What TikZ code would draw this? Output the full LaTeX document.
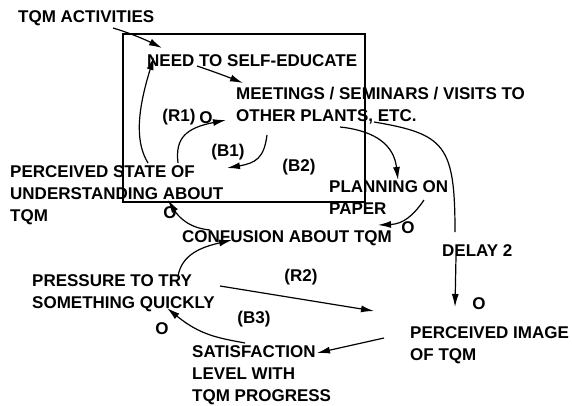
\documentclass[tikz,border=0pt]{standalone}
\usepackage{fontspec}
\setmainfont{Liberation Sans}
\usetikzlibrary{arrows.meta}
\tikzset{
  lbl/.style={anchor=base west, inner sep=0pt, align=left,
              font=\fontsize{17}{22}\selectfont\bfseries},
  loop/.style={inner sep=0pt, font=\fontsize{17}{22}\selectfont\bfseries},
  pol/.style={inner sep=0pt, font=\fontsize{17}{20}\selectfont\bfseries},
  link/.style={line width=1.2pt, -{Latex[length=13pt,width=7pt]}},
  plain/.style={line width=1.2pt},
}
\begin{document}
\begin{tikzpicture}[x=1pt, y=-1pt]
\useasboundingbox (0,0) rectangle (572,406);

% boundary of the self-education sector
\draw[line width=1.2pt] (123,34) rectangle (365,202);

% variables (multi-line nodes are placed by the baseline of their last line)
\node[lbl] (act)   at (18,23)  {TQM ACTIVITIES};
\node[lbl] (need)  at (147,67) {NEED TO SELF-EDUCATE};
\node[lbl] (meet)  at (236,122) {MEETINGS / SEMINARS / VISITS TO\\OTHER PLANTS, ETC.};
\node[lbl] (state) at (10,221) {PERCEIVED STATE OF\\UNDERSTANDING ABOUT\\TQM};
\node[lbl] (plan)  at (329,214) {PLANNING ON\\PAPER};
\node[lbl] (conf)  at (182,242) {CONFUSION ABOUT TQM};
\node[lbl] (delay) at (442,256) {DELAY 2};
\node[lbl] (press) at (32,308) {PRESSURE TO TRY\\SOMETHING QUICKLY};
\node[lbl] (image) at (410,360) {PERCEIVED IMAGE\\OF TQM};
\node[lbl] (sat)   at (192,401) {SATISFACTION\\LEVEL WITH\\TQM PROGRESS};

% loop identifiers
\node[loop] (r1) at (179,117) {(R1)};
\node[loop] (b1) at (228,152) {(B1)};
\node[loop] (b2) at (299,167) {(B2)};
\node[loop] (r2) at (301,277) {(R2)};
\node[loop] (b3) at (254,319) {(B3)};

% opposite-direction link markers
\node[pol] (o1) at (206,118) {O};
\node[pol] (o2) at (170,213) {O};
\node[pol] (o3) at (408,228) {O};
\node[pol] (o4) at (162,329) {O};
\node[pol] (o5) at (479,304) {O};

% connector end points
\coordinate (act-o)   at (113,28);
\coordinate (need-i)  at (162,48);
\coordinate (need-o)  at (197,66);
\coordinate (need-i2) at (154,57);
\coordinate (meet-i)  at (243,83);
\coordinate (meet-i2) at (226,120);
\coordinate (meet-o1) at (267,135);
\coordinate (meet-o2) at (340,127);
\coordinate (meet-o3) at (374,122);
\coordinate (state-o1) at (148,163);
\coordinate (state-o2) at (178,163);
\coordinate (state-i1) at (227,168);
\coordinate (state-i2) at (168,200);
\coordinate (plan-i)  at (398,180);
\coordinate (plan-o)  at (424,200);
\coordinate (conf-i1) at (378,225);
\coordinate (conf-i2) at (232,240);
\coordinate (conf-o)  at (210,230);
\coordinate (delay-i) at (455,232);
\coordinate (delay-o) at (456,256);
\coordinate (image-i1) at (455,307);
\coordinate (image-i2) at (374,311);
\coordinate (image-o) at (384,338);
\coordinate (press-o1) at (178,276);
\coordinate (press-o2) at (220,286);
\coordinate (press-i) at (167,308);
\coordinate (sat-i)   at (317,353);
\coordinate (sat-o)   at (245,343);

% causal links
\draw[link] (act-o) .. controls (130,33) and (146,40) .. (need-i);
\draw[link] (need-o) .. controls (212,71) and (228,77) .. (meet-i);
\draw[link] (state-o1) .. controls (137,145) and (135,118) .. (need-i2);
\draw[link] (state-o2) .. controls (175,138) and (186,128) .. (meet-i2);
\draw[link] (meet-o1) .. controls (264,158) and (256,163) .. (state-i1);
\draw[link] (meet-o2) .. controls (377,131) and (394,146) .. (plan-i);
\draw[plain] (meet-o3) .. controls (445,134) and (455,145) .. (delay-i);
\draw[link] (delay-o) -- (image-i1);
\draw[link] (plan-o) .. controls (413,216) and (403,224) .. (conf-i1);
\draw[link] (conf-o) .. controls (188,228) and (178,216) .. (state-i2);
\draw[link] (press-o1) .. controls (182,254) and (202,247) .. (conf-i2);
\draw[link] (press-o2) -- (image-i2);
\draw[link] (image-o) -- (sat-i);
\draw[link] (sat-o) .. controls (218,338) and (200,335) .. (press-i);
\end{tikzpicture}
\end{document}
